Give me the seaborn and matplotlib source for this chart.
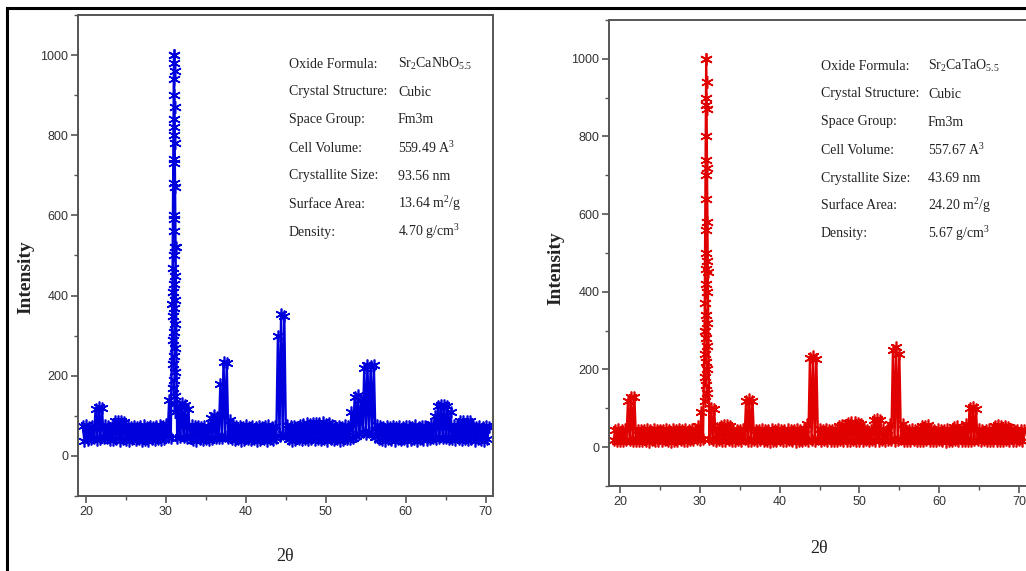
import numpy as np
import matplotlib
matplotlib.use("Agg")
import matplotlib.pyplot as plt
from matplotlib.patches import Rectangle
from matplotlib.ticker import MultipleLocator
import seaborn as sns

# Set plot style
sns.set_style("ticks")
plt.rcParams['font.family'] = ['Liberation Sans', 'DejaVu Sans']
plt.rcParams['mathtext.fontset'] = 'custom'
plt.rcParams['mathtext.rm'] = 'Liberation Serif'
plt.rcParams['mathtext.it'] = 'Liberation Serif:italic'
plt.rcParams['mathtext.bf'] = 'Liberation Serif:bold'

# Sr2CaNbO5.5 pattern, 2theta sampled every 0.2 deg from 19.6 to 70.4
nb_start, nb_end = 19.6, 70.4
nb_counts = [
         74, 38, 76, 40, 72, 43, 75, 45, 118,
    40, 122, 42, 120, 45, 76, 44, 75, 39, 73,
    40, 86, 42, 88, 38, 87, 41, 85, 40, 74,
    37, 72, 41, 75, 39, 73, 42, 74, 38, 76,
    40, 73, 37, 75, 42, 72, 39, 74, 41, 76,
    40, 74, 43, 80, 48, 140, 45, 380, 1000, 520,
    45, 125, 48, 132, 46, 128, 44, 118, 44, 76,
    40, 74, 38, 75, 41, 72, 39, 74, 42, 73,
    40, 95, 42, 102, 44, 98, 45, 180, 45, 235,
    50, 232, 45, 90, 42, 76, 39, 74, 41, 75,
    38, 73, 40, 76, 42, 72, 39, 74, 41, 73,
    37, 75, 40, 72, 42, 74, 38, 76, 41, 73,
    39, 75, 45, 300, 50, 355, 55, 350, 50, 76,
    42, 74, 38, 75, 40, 72, 41, 76, 39, 80,
    41, 82, 40, 80, 42, 83, 39, 81, 43, 82,
    40, 84, 42, 80, 38, 82, 41, 76, 39, 74,
    42, 75, 38, 73, 40, 76, 41, 74, 43, 110,
    45, 148, 50, 152, 55, 140, 60, 220, 55, 228,
    60, 225, 55, 226, 48, 76, 42, 75, 39, 73,
    38, 74, 41, 72, 40, 75, 37, 73, 42, 74,
    39, 72, 41, 75, 38, 74, 40, 73, 42, 76,
    38, 72, 41, 74, 39, 75, 40, 73, 42, 80,
    45, 100, 42, 125, 44, 128, 45, 126, 44, 124,
    42, 110, 42, 76, 40, 74, 42, 88, 40, 87,
    41, 88, 39, 86, 42, 74, 38, 73, 41, 75,
    40, 72, 38, 74, 41, 73,
]
# stars stacked along the steep 31 deg reflection
nb_col_tt = [31.05, 30.95, 31.1, 31.0, 30.95, 31.1, 31.0, 31.05, 30.95, 31.1,
             31.0, 31.05, 30.95, 31.1, 31.0, 31.05, 30.95, 31.1, 31.0, 30.9,
             31.1, 31.0, 30.9, 31.15, 31.0, 30.9, 31.15, 31.0, 30.9, 31.15,
             31.0, 30.9, 31.15, 31.0, 30.9, 31.15, 31.0, 31.1]
nb_col_counts = [1000, 980, 960, 940, 900, 870, 840, 820, 800, 780,
                 740, 730, 680, 670, 600, 590, 560, 520, 500, 470,
                 450, 430, 410, 390, 370, 350, 330, 310, 290, 270,
                 250, 230, 210, 190, 170, 150, 130, 110]

# Sr2CaTaO5.5 pattern, 2theta sampled every 0.2 deg from 19.2 to 70.6
ta_start, ta_end = 19.2, 70.6
ta_counts = [
    18, 45, 15, 46, 17, 44, 16, 47, 18, 120,
    18, 128, 16, 130, 17, 44, 15, 45, 17, 43,
    16, 46, 14, 44, 18, 47, 15, 45, 17, 43,
    15, 44, 18, 46, 16, 45, 14, 47, 17, 44,
    16, 46, 18, 44, 15, 47, 17, 45, 19, 48,
    18, 46, 20, 55, 18, 90, 20, 300, 1000, 450,
    20, 100, 18, 98, 17, 50, 18, 55, 17, 56,
    16, 57, 18, 55, 15, 48, 16, 45, 18, 44,
    15, 46, 20, 120, 16, 124, 17, 118, 18, 45,
    16, 44, 18, 46, 15, 45, 17, 43, 14, 46,
    17, 44, 15, 47, 18, 45, 16, 44, 15, 46,
    18, 45, 16, 43, 14, 46, 17, 44, 15, 47,
    18, 60, 16, 230, 18, 235, 17, 228, 22, 46,
    16, 44, 18, 46, 15, 45, 17, 43, 16, 47,
    15, 55, 18, 58, 16, 56, 17, 62, 15, 64,
    18, 65, 16, 63, 17, 60, 15, 46, 18, 44,
    16, 45, 18, 70, 17, 72, 15, 70, 18, 46,
    16, 45, 18, 60, 18, 250, 17, 258, 18, 240,
    20, 60, 17, 45, 15, 44, 16, 46, 18, 45,
    15, 44, 17, 55, 16, 54, 18, 56, 15, 46,
    17, 44, 15, 46, 18, 45, 16, 43, 14, 46,
    17, 45, 16, 52, 18, 54, 16, 45, 17, 46,
    15, 60, 17, 100, 16, 104, 18, 98, 18, 46,
    16, 44, 18, 45, 15, 47, 17, 44, 16, 55,
    15, 56, 17, 54, 16, 55, 18, 52, 15, 46,
    17, 44, 15, 45, 18, 43, 16, 44,
]
ta_col_tt = [30.8, 30.85, 30.75, 30.8, 30.85, 30.75, 30.8, 30.85, 30.75, 30.8,
             30.85, 30.75, 30.8, 30.85, 30.75, 30.8, 30.9, 30.7, 30.8, 30.9,
             30.7, 30.8, 30.9, 30.7, 30.8, 30.9, 30.7, 30.8, 30.9, 30.7]
ta_col_counts = [1000, 940, 900, 880, 870, 800, 740, 720, 700, 640,
                 580, 560, 500, 480, 460, 420, 400, 370, 340, 320,
                 300, 280, 260, 240, 220, 200, 180, 160, 140, 120]

info_labels = ["Oxide Formula:", "Crystal Structure:", "Space Group:", "Cell Volume:",
               "Crystallite Size:", "Surface Area:", "Density:"]
nb_info = ["Sr$_2$CaNbO$_{5.5}$", "Cubic", "Fm3m", "559.49 A$^3$",
           "93.56 nm", "13.64 m$^2$/g", "4.70 g/cm$^3$"]
ta_info = ["Sr$_2$CaTaO$_{5.5}$", "Cubic", "Fm3m", "557.67 A$^3$",
           "43.69 nm", "24.20 m$^2$/g", "5.67 g/cm$^3$"]

W, H = 1026, 571
fig = plt.figure(figsize=(W / 100, H / 100), dpi=100)
ax1 = fig.add_axes([78 / W, 1 - 496 / H, 415 / W, 481 / H])
ax2 = fig.add_axes([609 / W, 1 - 486 / H, 420 / W, 466 / H])

star = (6, 2, 0)
spine_col = '#555555'


def draw_panel(ax, tt, counts, col_tt, col_counts, color, xlim):
    sns.lineplot(x=tt, y=counts, ax=ax, sort=False, estimator=None, color=color,
                 lw=1.7, marker=star, markersize=8.5, mew=1.2, mec=color)
    sns.lineplot(x=col_tt, y=col_counts, ax=ax, sort=False, estimator=None, color=color,
                 lw=1.0, marker=star, markersize=9, mew=1.1, mec=color)
    ax.set_xlim(*xlim)
    ax.set_ylim(-100, 1100)
    ax.xaxis.set_major_locator(MultipleLocator(10))
    ax.xaxis.set_minor_locator(MultipleLocator(5))
    ax.yaxis.set_major_locator(MultipleLocator(200))
    ax.yaxis.set_minor_locator(MultipleLocator(100))
    ax.tick_params(which='major', direction='out', length=5, width=1.2, color=spine_col,
                   labelsize=9, labelcolor='#333333', pad=2)
    ax.tick_params(which='minor', direction='out', length=3, width=1.0, color=spine_col)
    for sp in ax.spines.values():
        sp.set_color(spine_col)
        sp.set_linewidth(1.4)
    ax.set_ylabel('Intensity', fontfamily='Liberation Serif', fontweight='bold',
                  fontsize=14, color='#222222')
    ax.set_xlabel('2\u03b8', fontfamily='Liberation Serif', fontsize=13, color='#222222')


draw_panel(ax1, np.linspace(nb_start, nb_end, len(nb_counts)), nb_counts,
           nb_col_tt, nb_col_counts, '#0000dd', (19.0, 70.9))
draw_panel(ax2, np.linspace(ta_start, ta_end, len(ta_counts)), ta_counts,
           ta_col_tt, ta_col_counts, '#e00000', (18.62, 71.25))

ax1.yaxis.set_label_coords(-0.104, 0.455)
ax1.xaxis.set_label_coords(0.499, -0.108)
ax2.yaxis.set_label_coords(-0.107, 0.468)
ax2.xaxis.set_label_coords(0.50, -0.116)

# property tables
rows_y = [64, 92, 120, 148, 176, 204, 232]
for lab, v1, v2, y in zip(info_labels, nb_info, ta_info, rows_y):
    kw = dict(fontfamily='Liberation Serif', fontsize=10, color='#222222', va='center')
    fig.text(289 / W, 1 - y / H, lab, **kw)
    fig.text(398 / W, 1 - y / H, v1, **kw)
    fig.text(821 / W, 1 - (y + 2) / H, lab, **kw)
    fig.text(928 / W, 1 - (y + 2) / H, v2, **kw)

# outer frame of the figure
fig.add_artist(Rectangle((6.5 / W, -0.1), 1.2, 1.1 - 7.5 / H, transform=fig.transFigure,
                         fill=False, ec='black', lw=2.2))

fig.savefig('out.png', dpi=100)
